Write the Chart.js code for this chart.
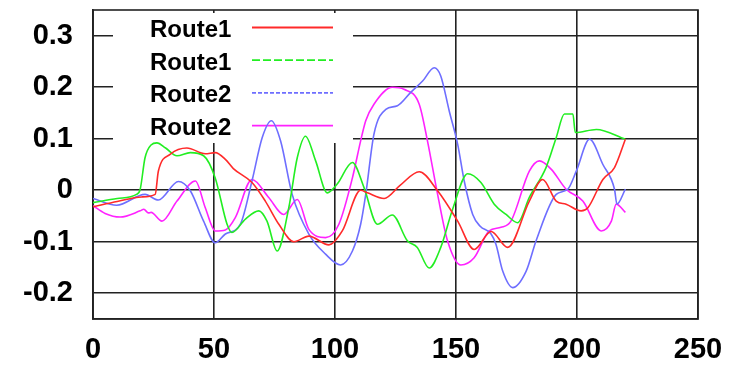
<!DOCTYPE html>
<html>
<head>
<meta charset="utf-8">
<script src="https://cdn.jsdelivr.net/npm/chart.js@4"></script>
<style>
html,body{margin:0;padding:0;background:#fff;}
#wrap{width:730px;height:365px;}
</style>
</head>
<body>
<div id="wrap"><canvas id="c" width="730" height="365"></canvas></div>
<script>
const seriesNames = ["Route1", "Route1", "Route2", "Route2"];
const xTicks = [0, 50, 100, 150, 200, 250];
const yTicks = [-0.2, -0.1, 0, 0.1, 0.2, 0.3];

const route1aX = [0,10,20,25.7,27,32,38.8,46.4,50.5,54.7,58,65.7,71.2,76.8,83,89.2,97.5,103,110.6,113.4,120.3,127,134.8,142.4,150.7,157.5,164.5,171.4,180.3,185.8,191.4,195.5,201.7,204.5,210.7,215.5,220];
const route1aY = [-0.032,-0.022,-0.013,-0.008,0.037,0.07,0.082,0.071,0.073,0.06,0.042,0.015,-0.021,-0.066,-0.1,-0.089,-0.106,-0.079,0.0,-0.005,-0.016,0.01,0.036,-0.001,-0.06,-0.115,-0.08,-0.111,-0.021,0.021,-0.021,-0.027,-0.04,-0.034,0.021,0.044,0.099];

const route1bX = [0,10,18,19.5,21.5,24,26.4,30,34.7,40.2,45.7,50.5,55.4,57.4,63,68.5,71.9,76.1,80.9,84.4,87.8,92,96.8,100.9,107.2,112,117.5,123.7,129.9,134,138.9,143.7,148.6,154.8,160.3,165.8,170.7,175.5,180.3,187.2,191.4,194.8,198.3,199.3,208,220];
const route1bY = [-0.024,-0.016,-0.008,0.002,0.063,0.088,0.092,0.082,0.067,0.073,0.067,0.024,-0.066,-0.082,-0.056,-0.04,-0.06,-0.118,-0.034,0.063,0.105,0.057,-0.005,0.012,0.054,0.005,-0.066,-0.048,-0.098,-0.111,-0.151,-0.111,-0.037,0.032,0.015,-0.027,-0.047,-0.063,-0.014,0.044,0.102,0.148,0.148,0.112,0.118,0.099];

const route2aX = [0,9.8,21.5,27,35.3,40.2,45.7,50.5,54.7,60.9,65.7,69.9,73.7,77.5,82.3,89.2,96.1,102.3,107.2,110.6,112.7,116.1,121,125.8,131.3,136.2,141,143.7,147.2,150.7,153.4,156.9,160,164.5,166.5,169.3,173.4,179,183.1,191.4,196.2,199.7,205.2,210.7,215.5,216.5,220];
const route2aY = [-0.016,-0.029,-0.008,-0.019,0.017,-0.001,-0.06,-0.102,-0.085,-0.066,0.018,0.102,0.135,0.096,-0.008,-0.085,-0.124,-0.145,-0.118,-0.066,-0.008,0.109,0.157,0.164,0.19,0.212,0.238,0.222,0.154,0.089,0.018,-0.047,-0.07,-0.085,-0.105,-0.157,-0.189,-0.157,-0.098,-0.008,0.002,0.037,0.099,0.05,0.002,-0.027,0.002];

const route2bX = [0,5,11.2,19.5,21,22.9,24,28.5,34.7,42.3,46.4,50.5,54.7,58.8,65.7,72.6,78.8,84.4,89.2,96.1,101.6,107.2,110.6,112.7,116.1,123.7,128.5,134.8,138.2,142.4,146.5,152,157.5,163.7,168.6,172.7,180.3,184.5,189.3,195.5,202.4,210,214.2,216.2,220];
const route2bY = [-0.03,-0.045,-0.052,-0.04,-0.037,-0.044,-0.043,-0.06,-0.021,0.018,-0.034,-0.079,-0.077,-0.053,0.021,-0.014,-0.047,-0.018,-0.076,-0.092,-0.066,0.024,0.096,0.135,0.167,0.2,0.196,0.167,0.096,-0.008,-0.098,-0.145,-0.131,-0.079,-0.072,-0.06,0.037,0.057,0.041,0.002,-0.021,-0.079,-0.06,-0.027,-0.043];

const lineColors = ["#ff2a2a", "#22ee22", "#6e6eff", "#ff22ff"];
const legendDashes = [[], [8, 3], [4, 2], []];

function pts(xs, ys) { return xs.map((x, i) => ({x: x, y: ys[i]})); }
const allX = [route1aX, route1bX, route2aX, route2bX];
const allY = [route1aY, route1bY, route2aY, route2bY];

const datasets = seriesNames.map((n, i) => ({
  label: n,
  data: pts(allX[i], allY[i]),
  borderColor: lineColors[i],
  borderWidth: 1.6,
  pointRadius: 0,
  fill: false,
  cubicInterpolationMode: 'monotone'
}));

const boxPlugin = {
  id: 'boxPlugin',
  beforeDatasetsDraw(chart) {
    const ctx = chart.ctx, a = chart.chartArea;
    ctx.save();
    ctx.strokeStyle = '#222';
    ctx.lineWidth = 1.6;
    ctx.strokeRect(a.left, a.top, a.right - a.left, a.bottom - a.top);
    ctx.fillStyle = '#fff';
    ctx.fillRect(a.left + 20, a.top + 3, 240, 130);
    ctx.font = 'bold 24px "Liberation Sans", Arial, sans-serif';
    ctx.fillStyle = '#000';
    ctx.textBaseline = 'alphabetic';
    ctx.textAlign = 'left';
    seriesNames.forEach((n, i) => {
      const base = a.top + 27 + i * 32.7;
      ctx.fillText(n, a.left + 57, base);
      ctx.beginPath();
      ctx.setLineDash(legendDashes[i]);
      ctx.strokeStyle = lineColors[i];
      ctx.lineWidth = 1.8;
      ctx.moveTo(a.left + 159, base - 9.5);
      ctx.lineTo(a.left + 240, base - 9.5);
      ctx.stroke();
    });
    ctx.restore();
  }
};

const tickFont = {family: '"Liberation Sans", Arial, sans-serif', size: 29, weight: 'bold'};

new Chart(document.getElementById('c'), {
  type: 'line',
  data: {datasets: datasets},
  options: {
    responsive: false,
    animation: false,
    devicePixelRatio: 1,
    layout: {padding: {left: 0, right: 32, top: 10, bottom: 0}},
    plugins: {legend: {display: false}, tooltip: {enabled: false}},
    scales: {
      x: {
        type: 'linear', min: 0, max: 250,
        afterBuildTicks: s => { s.ticks = xTicks.map(v => ({value: v})); },
        afterFit: s => { s.height = 46; s.paddingLeft = 0; s.paddingRight = 0; },
        ticks: {font: tickFont, color: '#000', padding: 14, maxRotation: 0, callback: v => String(v)},
        grid: {color: '#222', lineWidth: 1.6, drawTicks: false},
        border: {color: '#222', width: 1.6}
      },
      y: {
        type: 'linear', min: -0.25, max: 0.35,
        afterBuildTicks: s => { s.ticks = yTicks.map(v => ({value: v})); },
        afterFit: s => { s.width = 93; s.paddingTop = 0; s.paddingBottom = 0; },
        ticks: {font: tickFont, color: '#000', padding: 20, callback: v => String(Number(v.toFixed(1)))},
        grid: {color: '#222', lineWidth: 1.6, drawTicks: false},
        border: {color: '#222', width: 1.6}
      }
    }
  },
  plugins: [boxPlugin]
});
</script>
</body>
</html>
